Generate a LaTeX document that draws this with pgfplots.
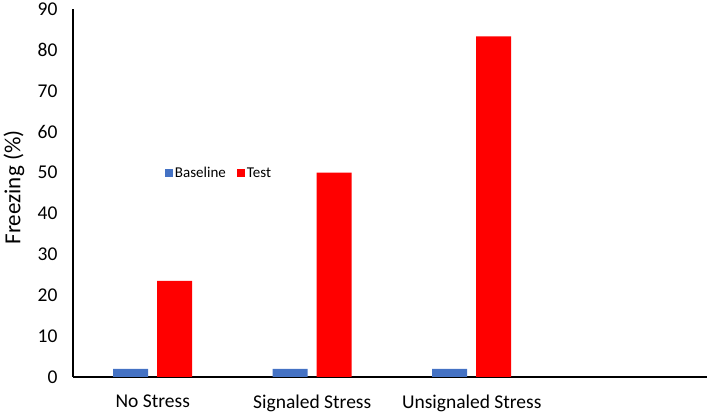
\documentclass[border=0pt]{standalone}
\usepackage{fontspec}
\setmainfont{Carlito}
\usepackage{pgfplots}
\pgfplotsset{compat=1.18}
\usetikzlibrary{calc}

\definecolor{basecol}{HTML}{4472C4}
\definecolor{testcol}{HTML}{FF0000}

\begin{document}
\begin{tikzpicture}
\begin{axis}[
    name=ax,
    scale only axis,
    width=634pt, height=368pt,
    ybar=9pt, bar width=35pt,
    xmin=-0.5, xmax=3.475,
    ymin=0, ymax=90,
    xtick={0,1,2}, xticklabels={No Stress, Signaled Stress, Unsignaled Stress},
    ytick={0,10,...,90},
    axis x line*=bottom, axis y line*=left,
    axis line style={line width=2pt, black, -},
    major tick length=0pt,
    /pgf/number format/assume math mode=true,
    tick label style={font=\fontsize{19.5}{22}\selectfont},
    yticklabel style={xshift=-12pt},
    xticklabel style={yshift=-14pt},
    ylabel={Freezing (\%)},
    ylabel style={font=\fontsize{23}{26}\selectfont, at={(axis description cs:-0.093,0.515)}, anchor=center},
    legend style={draw=none, fill=none, at={(0.14,0.553)}, anchor=west,
        legend columns=2, font=\fontsize{15}{18}\selectfont,
        /tikz/every even column/.append style={column sep=9pt}},
    legend image code/.code={\fill[#1] (-2pt,-4pt) rectangle (6pt,4pt);},
]
\addplot[fill=basecol, draw=none] coordinates {(0,2) (1,2) (2,2)};
\addplot[fill=testcol, draw=none] coordinates {(0,23.5) (1,50) (2,83.3)};
\legend{Baseline, Test}
\end{axis}
\pgfresetboundingbox
\path ($(ax.south west)+(-73pt,-37pt)$) rectangle ($(ax.north east)+(2pt,9pt)$);
\end{tikzpicture}
\end{document}
